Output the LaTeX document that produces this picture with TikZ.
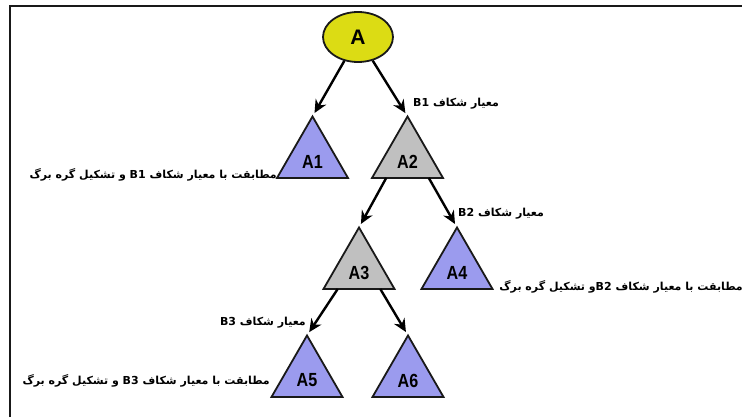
\documentclass[tikz,border=0pt]{standalone}
\usepackage{fontspec}
\setmainfont{Liberation Sans}
\newfontfamily\fa[Script=Arabic]{DejaVu Sans}
\TeXXeTstate=1
\usetikzlibrary{shapes.geometric,arrows.meta,calc}
\definecolor{yel}{RGB}{220,220,20}
\definecolor{lblue}{RGB}{155,155,238}
\definecolor{lgray}{RGB}{192,192,192}
\definecolor{edgec}{RGB}{25,25,25}
\tikzset{
 tri/.style={regular polygon, regular polygon sides=3, minimum size=82pt, inner sep=0pt, outer sep=0pt, draw=edgec, line width=1.8pt},
 tlbl/.style={font=\bfseries\fontsize{19}{19}\selectfont, inner sep=0pt},
 conn/.style={draw=black, line width=2.4pt, -{Stealth[length=13pt,width=12pt]}, shorten >=4pt},
 fatxt/.style={font=\fa\bfseries\fontsize{11}{13}\selectfont, inner sep=0pt},
}
\begin{document}
\begin{tikzpicture}[x=1pt,y=-1pt]
\useasboundingbox (0,0) rectangle (742,420);
\fill[white] (0,0) rectangle (742,420);
\draw[line width=2pt, edgec] (9.5,417) -- (9.5,6) -- (743,6);

\node[ellipse, draw=edgec, line width=1.8pt, fill=yel, minimum width=70pt, minimum height=50pt, inner sep=0pt, font=\bfseries\fontsize{21}{21}\selectfont] (A) at (358,37) {A};

\node[tri, fill=lblue] (A1) at (312.5,157.5) {};
\node[tri, fill=lgray] (A2) at (407.5,157.5) {};
\node[tri, fill=lgray] (A3) at (359,268.5) {};
\node[tri, fill=lblue] (A4) at (457,268.5) {};
\node[tri, fill=lblue] (A5) at (307,376.5) {};
\node[tri, fill=lblue] (A6) at (408,376.5) {};

\node[tlbl] (t1) at ($(A1.center)+(0,4)$) {\scalebox{0.85}[1]{A1}};
\node[tlbl] (t2) at ($(A2.center)+(0,4)$) {\scalebox{0.85}[1]{A2}};
\node[tlbl] (t3) at ($(A3.center)+(0,4)$) {\scalebox{0.85}[1]{A3}};
\node[tlbl] (t4) at ($(A4.center)+(0,4)$) {\scalebox{0.85}[1]{A4}};
\node[tlbl] (t5) at ($(A5.center)+(0,4)$) {\scalebox{0.85}[1]{A5}};
\node[tlbl] (t6) at ($(A6.center)+(0,4)$) {\scalebox{0.85}[1]{A6}};

\draw[conn] (A) -- (A1.corner 1);
\draw[conn] (A) -- (A2.corner 1);
\draw[conn] ($(A2.corner 2)!0.2!(A2.corner 3)$) -- (A3.corner 1);
\draw[conn] ($(A2.corner 2)!0.8!(A2.corner 3)$) -- (A4.corner 1);
\draw[conn] ($(A3.corner 2)!0.2!(A3.corner 3)$) -- (A5.corner 1);
\draw[conn] ($(A3.corner 2)!0.8!(A3.corner 3)$) -- (A6.corner 1);

\node[fatxt, anchor=west] (c1) at (413,104) {\beginR معیار شکاف \beginL B1\endL\endR};
\node[fatxt, anchor=east] (l1) at (277,175) {\beginR مطابقت با معیار شکاف \beginL B1\endL{} و تشکیل گره برگ\endR};
\node[fatxt, anchor=west] (c2) at (458,214) {\beginR معیار شکاف \beginL B2\endL\endR};
\node[fatxt, anchor=east] (l2) at (743,287) {\beginR مطابقت با معیار شکاف \beginL B2\endL{}و تشکیل گره برگ\endR};
\node[fatxt, anchor=east] (c3) at (306,323) {\beginR معیار شکاف \beginL B3\endL\endR};
\node[fatxt, anchor=east] (l3) at (270,381) {\beginR مطابقت با معیار شکاف \beginL B3\endL{} و تشکیل گره برگ\endR};
\end{tikzpicture}
\end{document}
